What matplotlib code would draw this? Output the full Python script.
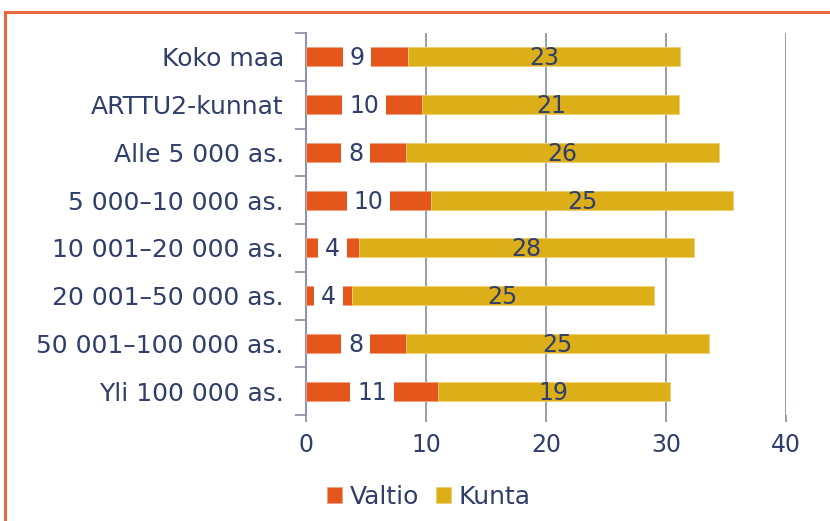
import matplotlib.pyplot as plt
import matplotlib.patches as patches
import numpy as np

categories = ["Koko maa", "ARTTU2-kunnat", "Alle 5 000 as.", "5 000\u201310 000 as.",
              "10 001\u201320 000 as.", "20 001\u201350 000 as.", "50 001\u2013100 000 as.",
              "Yli 100 000 as."]
valtio = [8.5, 9.7, 8.3, 10.4, 4.4, 3.8, 8.3, 11.0]
kunta = [22.7, 21.4, 26.1, 25.2, 27.9, 25.2, 25.3, 19.3]
valtio_labels = ["9", "10", "8", "10", "4", "4", "8", "11"]
kunta_labels = ["23", "21", "26", "25", "28", "25", "25", "19"]
xticks = [0, 10, 20, 30, 40]

c_valtio = "#E4561B"
c_kunta = "#DCAE18"
c_text = "#2F3E6A"
c_grid = "#8E95A8"

fig = plt.figure(figsize=(8.3, 5.21), dpi=100)
ax = fig.add_axes([306 / 830, 1 - 415 / 521, 480 / 830, 382 / 521])

y = np.arange(len(categories))[::-1]
ax.barh(y, valtio, height=0.4, color=c_valtio, edgecolor="#F0A080", linewidth=0.6,
        label="Valtio", zorder=3)
ax.barh(y, kunta, left=valtio, height=0.4, color=c_kunta, edgecolor="#EDD070", linewidth=0.6,
        label="Kunta", zorder=3)

for yi, v, k, vl, kl in zip(y, valtio, kunta, valtio_labels, kunta_labels):
    ax.text(v / 2, yi - 0.03, vl, ha="center", va="center", fontsize=17, color=c_text, zorder=4,
            bbox=dict(facecolor="white", edgecolor="none", pad=5))
    ax.text(v + k / 2, yi - 0.03, kl, ha="center", va="center", fontsize=17, color=c_text, zorder=4)

ax.set_xlim(0, 40)
ax.set_ylim(-0.5, len(categories) - 0.5)
ax.set_xticks(xticks)
ax.set_yticks(y)
ax.set_yticklabels(categories)
ax.set_yticks(np.arange(len(categories) + 1) - 0.5, minor=True)
ax.tick_params(axis="y", which="major", length=0, pad=16, labelsize=18, labelcolor=c_text)
ax.tick_params(axis="y", which="minor", length=8, width=1.3, color=c_grid)
ax.tick_params(axis="x", length=5, width=1.3, color=c_grid, labelsize=17, labelcolor=c_text, pad=8)
ax.grid(axis="x", color=c_grid, linewidth=1.3, zorder=0)
for s in ["top", "right", "bottom"]:
    ax.spines[s].set_visible(False)
ax.spines["left"].set_color(c_grid)
ax.spines["left"].set_linewidth(1.5)

ax.legend(loc="center", bbox_to_anchor=(429 / 830, 1 - 497 / 521), bbox_transform=fig.transFigure,
          ncol=2, frameon=False, fontsize=18, labelcolor=c_text, handlelength=0.6,
          handleheight=0.6, handletextpad=0.3, columnspacing=0.7)

border = patches.Rectangle((5 / 830, -0.1), 1.0, 1 - 12 / 521 + 0.1, transform=fig.transFigure,
                           fill=False, edgecolor="#E8693F", linewidth=2.2, clip_on=False)
fig.add_artist(border)

fig.savefig("out.png", dpi=100)
